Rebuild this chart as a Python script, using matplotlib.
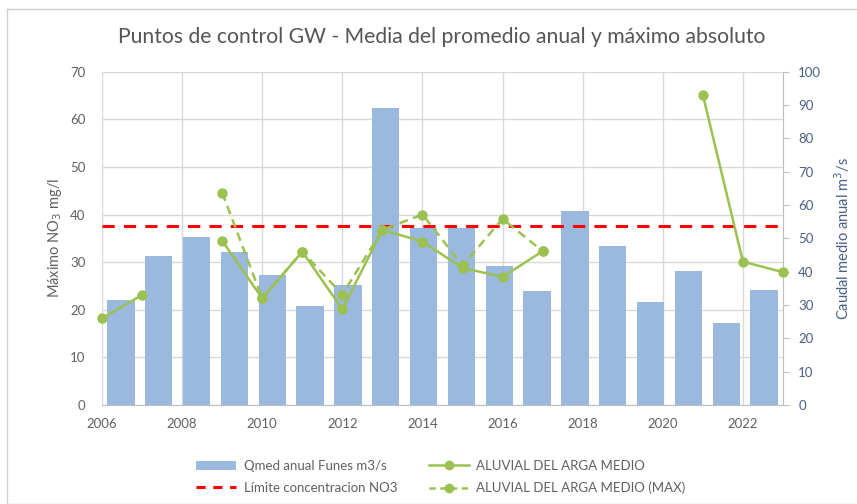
import numpy as np
import matplotlib
matplotlib.use("Agg")
import matplotlib.pyplot as plt
from matplotlib.lines import Line2D
from matplotlib.patches import Patch, Rectangle

# ---- data ----
years = list(range(2006, 2024))
qmed = [31.5, 44.7, 50.4, 45.8, 39.1, 29.8, 36.0, 89.2, 53.0,
        53.0, 41.6, 34.1, 58.3, 47.6, 30.8, 40.1, 24.7, 34.5]
aluvial = [18.2, 23.1, np.nan, 34.5, 22.4, 32.2, 20.1, 36.8, 34.3,
           28.8, 26.9, 32.3, np.nan, np.nan, np.nan, 65.1, 30.1, 27.9]
aluvial_max = [np.nan, np.nan, np.nan, 44.6, 22.4, 32.2, 23.2, 36.8, 40.0,
               29.3, 39.1, 32.3, np.nan, np.nan, np.nan, np.nan, np.nan, np.nan]
limite = 37.5
left_ticks = list(range(0, 71, 10))
right_ticks = list(range(0, 101, 10))
x_ticks = list(range(2006, 2023, 2))

title = "Puntos de control GW - Media del promedio anual y máximo absoluto"
lbl_bar = "Qmed anual Funes m3/s"
lbl_lim = "Límite concentracion NO3"
lbl_al = "ALUVIAL DEL ARGA MEDIO"
lbl_max = "ALUVIAL DEL ARGA MEDIO (MAX)"

# ---- style ----
plt.rcParams['font.family'] = ['Lato', 'DejaVu Sans']
BAR = "#9BB8DF"
GREEN = "#9BC250"
RED = "#FF0000"
GRAY_TXT = "#606060"
BLUE_TXT = "#4A5F86"
GRID = "#D9D9D9"

W, H = 857, 504
fig = plt.figure(figsize=(W / 100, H / 100), dpi=100)
fig.patch.set_facecolor("white")
# chart-area border
fig.add_artist(Rectangle((7 / W, 0), 1.2, 1 - 9 / H, transform=fig.transFigure,
                         fill=False, edgecolor="#D0D0D0", lw=1.0))

x0, x1, y0, y1 = 102, 783, 405, 71.7
rect = [x0 / W, 1 - y0 / H, (x1 - x0) / W, (y0 - y1) / H]

# base axes: grid, left labels, x labels
ax = fig.add_axes(rect, zorder=1)
ax.set_xlim(2006, 2023)
ax.set_ylim(0, 70)
ax.set_yticks(left_ticks)
ax.set_xticks(x_ticks)
ax.tick_params(axis='both', length=0, labelsize=9.5, colors=GRAY_TXT)
ax.tick_params(axis='x', pad=9)
ax.tick_params(axis='y', pad=12)
ax.grid(True, color=GRID, lw=1.0)
for s in ['top', 'right', 'left']:
    ax.spines[s].set_visible(False)
ax.spines['bottom'].set_color("#BFBFBF")
ax.set_ylabel("Máximo NO$_3$ mg/l", color=GRAY_TXT, fontsize=10.5, labelpad=4)

# bars axes (category axis, right y)
axb = fig.add_axes(rect, zorder=2)
axb.patch.set_visible(False)
bw = 0.72
axb.bar(np.arange(len(years)) + 0.5, qmed, width=bw, color=BAR, zorder=2)
axb.set_xlim(0, len(years))
axb.set_ylim(0, 100)
axb.set_xticks([])
axb.yaxis.tick_right()
axb.yaxis.set_label_position("right")
axb.set_yticks(right_ticks)
axb.tick_params(axis='y', length=4, color="#BFBFBF", labelsize=9.5,
                labelcolor=BLUE_TXT, pad=7)
for s in ['top', 'left', 'bottom']:
    axb.spines[s].set_visible(False)
axb.spines['right'].set_color("#BFBFBF")
axb.set_ylabel("Caudal medio anual m$^3$/s", color=BLUE_TXT, fontsize=10.5,
               labelpad=8)

# lines axes
axl = fig.add_axes(rect, zorder=3, sharex=ax, sharey=ax)
axl.patch.set_visible(False)
axl.axis('off')
axl.axhline(limite, color=RED, lw=2.2, ls=(0, (4, 3)))
axl.plot(years, aluvial_max, color=GREEN, lw=1.8, ls=(0, (3.5, 2.2)),
         marker='o', ms=6.5, clip_on=False)
axl.plot(years, aluvial, color=GREEN, lw=1.8, marker='o', ms=6.5,
         clip_on=False)

fig.text(442 / W, 1 - 37 / H, title, ha='center', va='center',
         fontsize=15.2, color="#555555")

handles = [
    Patch(facecolor=BAR, edgecolor='none', label=lbl_bar),
    Line2D([], [], color=RED, lw=2.2, ls=(0, (3, 2.5)), label=lbl_lim),
    Line2D([], [], color=GREEN, lw=1.8, marker='o', ms=6, label=lbl_al),
    Line2D([], [], color=GREEN, lw=1.8, ls=(0, (2.5, 1.8)), marker='o', ms=6,
           label=lbl_max),
]
fig.legend(handles=handles, ncol=2, loc='center', frameon=False,
           bbox_to_anchor=(441 / W, 1 - 477 / H), fontsize=9.5,
           labelcolor=GRAY_TXT, columnspacing=2.4, handlelength=3.0,
           handletextpad=0.6, labelspacing=0.75)

fig.savefig("out.png", dpi=100)
